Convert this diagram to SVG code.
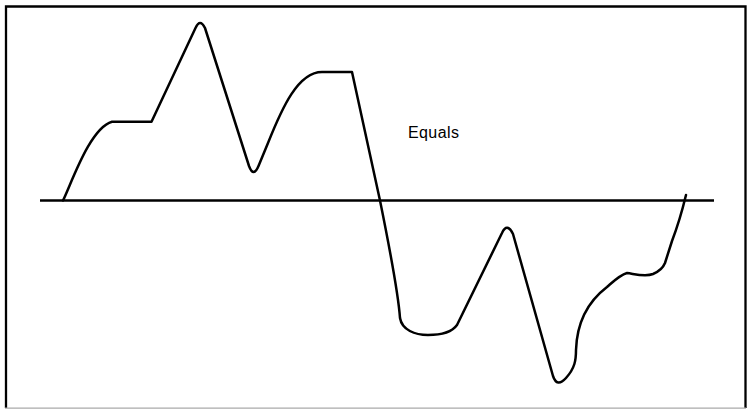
<svg xmlns="http://www.w3.org/2000/svg" width="749" height="409" viewBox="0 0 749 409">
<style>
.frame{fill:none;stroke:#000;stroke-width:2.3}
.axis{fill:none;stroke:#000;stroke-width:2.5}
.wave{fill:none;stroke:#000;stroke-width:2.5;stroke-linejoin:round;stroke-linecap:round}
.lbl{font-family:"Liberation Sans",Arial,sans-serif;font-size:16px;fill:#000}
</style>
<rect width="749" height="409" fill="#fff"/>
<g id="frame">
<path class="frame" d="M6,408 V6.5 H745.5 V408"/>
<line x1="5" y1="408.2" x2="746" y2="408.2" stroke="#aaa" stroke-width="1.2"/>
</g>
<g id="connectors">
<line id="axis" class="axis" x1="40" y1="200.5" x2="714" y2="200.5"/>
<path id="waveform" class="wave" d="M63,200.5 C72,182 90,128 112,121.7 L151.5,121.7 L195.5,28 Q200,18 205,28 L249,166 Q253.5,178 258.5,166 L268,143 C282,108 298,72 322,72 L352,72 L380,200.5 C388,240 398,290 400,318 C402,330 415,335 428,335 C442,335 452,332 457,325 L502,233 Q507,222 513,234 L553,376 Q557,388 566,378 C575,368 576,360 576,350 C577,320 590,300 607,287 C615,280 620,275 627,273 C635,274 645,277 653,274 C660,271 663,268 665,263 L672,241 Q680,220 686,195"/>
</g>
<g id="label">
<text class="lbl" x="408" y="137.7" letter-spacing="0.4">Equals</text>
</g>
</svg>
